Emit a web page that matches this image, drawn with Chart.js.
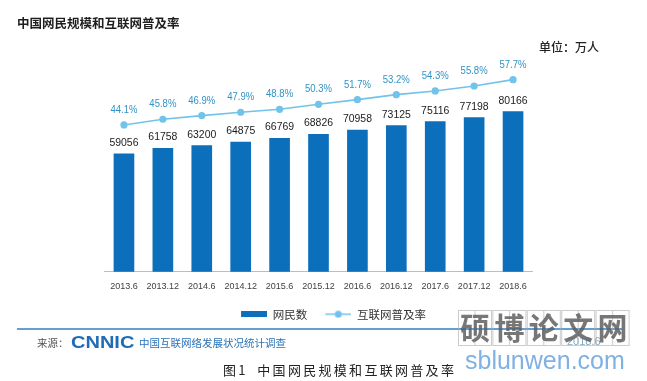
<!DOCTYPE html>
<html><head><meta charset="utf-8">
<script src="https://cdn.jsdelivr.net/npm/chart.js@4"></script>
<style>html,body{margin:0;padding:0;background:#fff}canvas{display:block}</style>
</head><body>
<canvas id="c" width="647" height="381"></canvas>
<script>
const categories = ['2013.6','2013.12','2014.6','2014.12','2015.6','2015.12','2016.6','2016.12','2017.6','2017.12','2018.6'];
const users = [59056, 61758, 63200, 64875, 66769, 68826, 70958, 73125, 75116, 77198, 80166];
const rates = [44.1, 45.8, 46.9, 47.9, 48.8, 50.3, 51.7, 53.2, 54.3, 55.8, 57.7];
const seriesNames = ['网民数', '互联网普及率'];
const titleText = '中国网民规模和互联网普及率';
const unitText = '单位：万人';
const captionText = '图1 中国网民规模和互联网普及率';

const BAR = '#0c6fbc', LINE = '#72c3e9', PCT = '#3193c5';
const SANS = '"Liberation Sans", Arial, sans-serif';
const CJK = '"Noto Sans CJK SC", sans-serif';

function swatch(w, h, fn){ const c=document.createElement('canvas'); c.width=w; c.height=h; fn(c.getContext('2d')); return c; }
const SW = 36; // swatch canvas width incl. 10px transparent lead
const barSw = swatch(SW, 6, g=>{ g.fillStyle=BAR; g.fillRect(10,0,26,6); });
const lineSw = swatch(SW, 8, g=>{ g.strokeStyle=LINE; g.lineWidth=1.5; g.beginPath(); g.moveTo(10,4); g.lineTo(36,4); g.stroke(); g.fillStyle=LINE; g.beginPath(); g.arc(23,4,3.5,0,Math.PI*2); g.fill(); });

function squish(ctx, txt, x, y, font, color, sx){
  ctx.save(); ctx.font=font; ctx.fillStyle=color; ctx.textAlign='center'; ctx.textBaseline='middle';
  ctx.translate(x,y); ctx.scale(sx,1); ctx.fillText(txt,0,0); ctx.restore();
}

const labelPlugin = {
  id: 'vals',
  afterDatasetsDraw(chart){
    const ctx = chart.ctx;
    chart.getDatasetMeta(0).data.forEach((el,i)=>squish(ctx, String(users[i]), el.x, el.y-11, '11px '+SANS, '#1b1b1b', 0.95));
    chart.getDatasetMeta(1).data.forEach((el,i)=>squish(ctx, rates[i].toFixed(1)+'%', el.x, el.y-15, '11.5px '+SANS, PCT, 0.83));
  }
};

const decoPlugin = {
  id: 'deco',
  afterDraw(chart){
    const ctx = chart.ctx;
    ctx.save();
    ctx.textBaseline='middle'; ctx.textAlign='left';
    ctx.fillStyle='#1e1e1e'; ctx.font='bold 12.5px '+CJK; ctx.fillText(titleText, 17, 23);
    ctx.fillStyle='#222'; ctx.font='500 12px '+CJK; ctx.fillText(unitText, 539, 47);
    ctx.strokeStyle='#2f7fc3'; ctx.lineWidth=1.5; ctx.beginPath(); ctx.moveTo(17,329); ctx.lineTo(622,329); ctx.stroke();
    ctx.fillStyle='#555'; ctx.font='10.5px '+CJK; ctx.fillText('来源：', 37, 343);
    ctx.save(); ctx.translate(71,343.5); ctx.scale(1.25,1); ctx.fillStyle='#1f6db6'; ctx.font='bold 16px '+SANS; ctx.fillText('CNNIC',0,0); ctx.restore();
    ctx.fillStyle='#2a72b8'; ctx.font='10.5px '+CJK; ctx.fillText('中国互联网络发展状况统计调查', 139, 343);
    ctx.fillStyle='#86a9c4'; ctx.font='11px '+SANS; ctx.fillText('2018.6', 567, 342);
    ctx.fillStyle='#222'; ctx.font='13px '+CJK;
    let x=223; for(const ch of captionText){ ctx.fillText(ch, x, 370); x += (ch===' ')?7:(ch==='1'?12:15.3); }
    ctx.strokeStyle='rgba(170,170,170,0.6)'; ctx.lineWidth=1;
    for(let i=0;i<5;i++){ const bx=458+i*34.4; ctx.strokeRect(bx+0.5,310.5,33,35); ctx.beginPath(); ctx.moveTo(bx+17,311); ctx.lineTo(bx+17,345); ctx.stroke(); }
    ctx.fillStyle='rgba(95,95,95,0.85)'; ctx.font='bold 30px '+CJK; ctx.textAlign='center';
    '硕博论文网'.split('').forEach((ch,i)=>ctx.fillText(ch, 458+i*34.4+17, 328));
    ctx.fillStyle='#7fb1e3'; ctx.font='25px '+SANS; ctx.textAlign='left'; ctx.fillText('sblunwen.com', 465, 362);
    ctx.restore();
  }
};

const hiddenAxis = (w, extra) => Object.assign({ display:true, grid:{display:false}, border:{display:false}, ticks:{display:false}, afterFit(s){ s.width = w; } }, extra);

new Chart(document.getElementById('c'), {
  data: {
    labels: categories,
    datasets: [
      { type:'bar', label: seriesNames[0], data: users, backgroundColor: BAR, barThickness: 20, yAxisID:'y', order: 2 },
      { type:'line', label: seriesNames[1], data: rates, borderColor: LINE, backgroundColor: LINE, borderWidth: 1.6,
        pointRadius: 3.6, pointBackgroundColor: LINE, pointBorderWidth: 0, yAxisID:'y1', order: 1, tension: 0 }
    ]
  },
  options: {
    responsive: false, animation: false, devicePixelRatio: 1,
    layout: { padding: { left: 60, right: 50, top: 72, bottom: 51 } },
    scales: {
      x: { grid: { display:false, drawTicks:false }, border: { display:true, color:'#bdbdbd', width:1 },
           ticks: { color:'#404040', font:{ size:9, family:'Liberation Sans' }, padding: 9, maxRotation:0, autoSkip:false } },
      y: hiddenAxis(44.5, { min:0, max:100000, position:'left' }),
      y1: hiddenAxis(64.5, { min:0, max:60, position:'right' })
    },
    plugins: {
      legend: { position:'bottom',
        labels: { usePointStyle:true, pointStyleWidth:SW, boxHeight:8, padding:8, color:'#333', font:{ size:11.5, family:'Noto Sans CJK SC' },
          generateLabels(chart){
            return Chart.defaults.plugins.legend.labels.generateLabels(chart)
              .sort((a,b)=>a.datasetIndex-b.datasetIndex)
              .map(l=>Object.assign(l,{pointStyle: l.datasetIndex===0?barSw:lineSw}));
          } } },
      tooltip: { enabled:false }
    }
  },
  plugins: [labelPlugin, decoPlugin]
});
</script>
</body></html>
